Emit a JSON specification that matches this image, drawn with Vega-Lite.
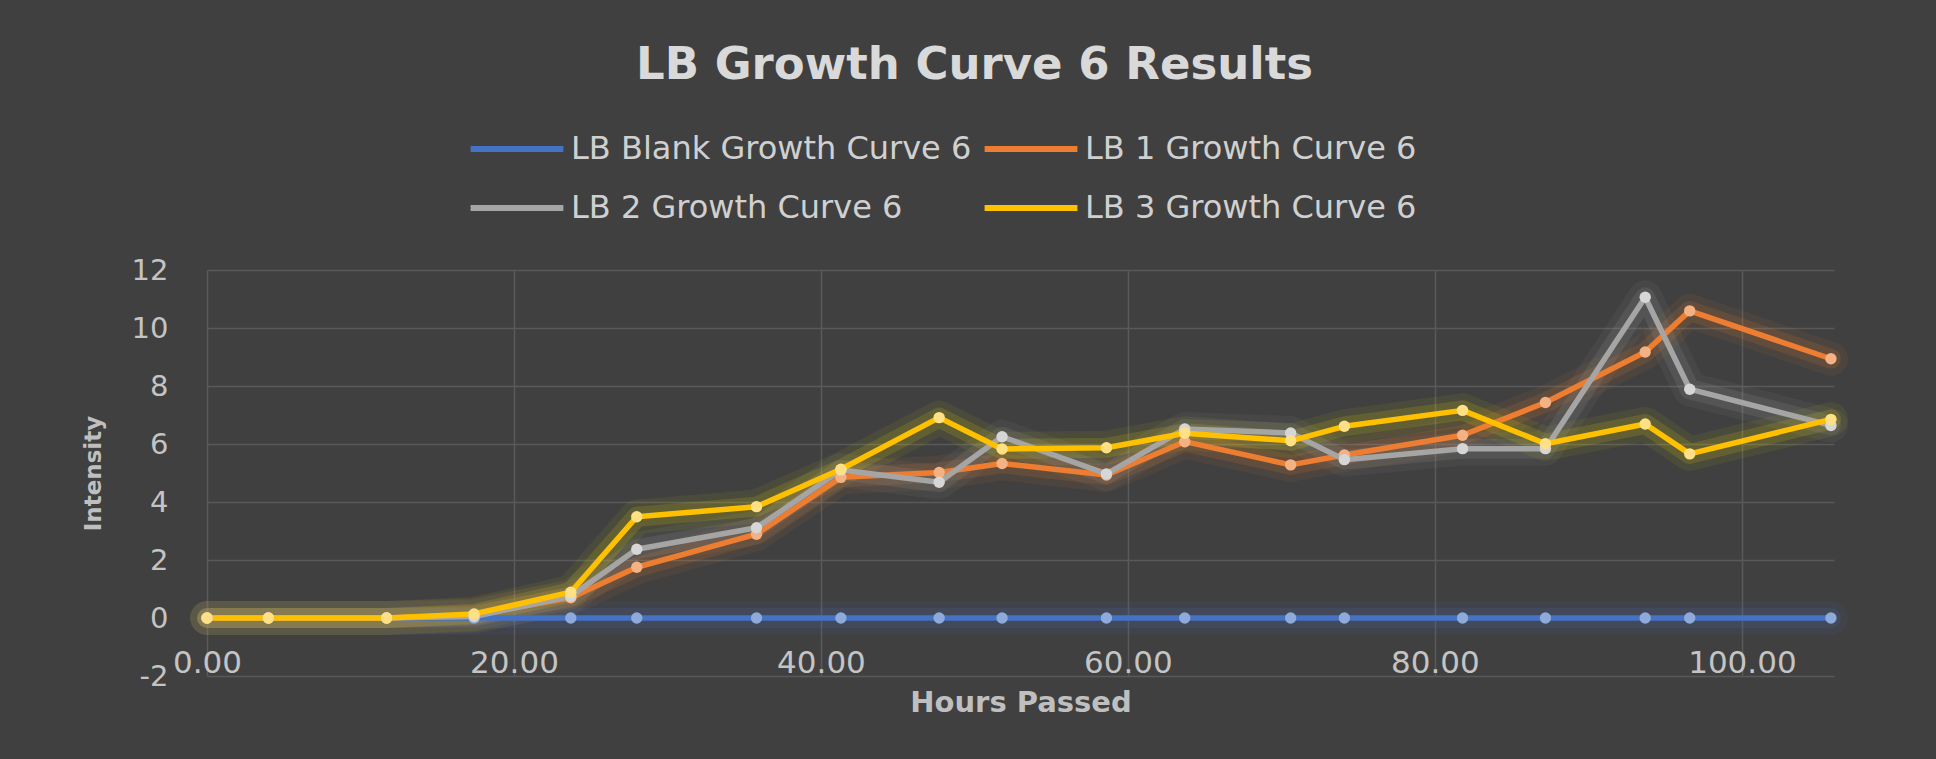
{
  "$schema": "https://vega.github.io/schema/vega-lite/v6.json",
  "autosize": {"type": "none"},
  "width": 1627,
  "height": 406,
  "padding": {"left": 207, "top": 270, "right": 102, "bottom": 83},
  "background": "#404040",
  "title": {
    "text": "LB Growth Curve 6 Results",
    "font": "DejaVu Sans",
    "fontSize": 45,
    "fontWeight": "bold",
    "color": "#d9d9d9",
    "anchor": "middle",
    "frame": "group",
    "baseline": "alphabetic",
    "dx": -46,
    "offset": -18
  },
  "config": {
    "view": {"stroke": null},
    "font": "DejaVu Sans"
  },
  "data": {
    "values": [
      {"h": 0, "s": "LB Blank Growth Curve 6", "v": 0},
      {"h": 4.0, "s": "LB Blank Growth Curve 6", "v": 0},
      {"h": 11.7, "s": "LB Blank Growth Curve 6", "v": 0},
      {"h": 17.4, "s": "LB Blank Growth Curve 6", "v": 0},
      {"h": 23.7, "s": "LB Blank Growth Curve 6", "v": 0},
      {"h": 28.0, "s": "LB Blank Growth Curve 6", "v": 0},
      {"h": 35.8, "s": "LB Blank Growth Curve 6", "v": 0},
      {"h": 41.3, "s": "LB Blank Growth Curve 6", "v": 0},
      {"h": 47.7, "s": "LB Blank Growth Curve 6", "v": 0},
      {"h": 51.8, "s": "LB Blank Growth Curve 6", "v": 0},
      {"h": 58.6, "s": "LB Blank Growth Curve 6", "v": 0},
      {"h": 63.7, "s": "LB Blank Growth Curve 6", "v": 0},
      {"h": 70.6, "s": "LB Blank Growth Curve 6", "v": 0},
      {"h": 74.1, "s": "LB Blank Growth Curve 6", "v": 0},
      {"h": 81.8, "s": "LB Blank Growth Curve 6", "v": 0},
      {"h": 87.2, "s": "LB Blank Growth Curve 6", "v": 0},
      {"h": 93.7, "s": "LB Blank Growth Curve 6", "v": 0},
      {"h": 96.6, "s": "LB Blank Growth Curve 6", "v": 0},
      {"h": 105.8, "s": "LB Blank Growth Curve 6", "v": 0},
      {"h": 0, "s": "LB 1 Growth Curve 6", "v": 0},
      {"h": 4.0, "s": "LB 1 Growth Curve 6", "v": 0},
      {"h": 11.7, "s": "LB 1 Growth Curve 6", "v": 0},
      {"h": 17.4, "s": "LB 1 Growth Curve 6", "v": 0.1},
      {"h": 23.7, "s": "LB 1 Growth Curve 6", "v": 0.7},
      {"h": 28.0, "s": "LB 1 Growth Curve 6", "v": 1.75},
      {"h": 35.8, "s": "LB 1 Growth Curve 6", "v": 2.89},
      {"h": 41.3, "s": "LB 1 Growth Curve 6", "v": 4.85},
      {"h": 47.7, "s": "LB 1 Growth Curve 6", "v": 5.02},
      {"h": 51.8, "s": "LB 1 Growth Curve 6", "v": 5.33},
      {"h": 58.6, "s": "LB 1 Growth Curve 6", "v": 4.93},
      {"h": 63.7, "s": "LB 1 Growth Curve 6", "v": 6.08},
      {"h": 70.6, "s": "LB 1 Growth Curve 6", "v": 5.28},
      {"h": 74.1, "s": "LB 1 Growth Curve 6", "v": 5.62},
      {"h": 81.8, "s": "LB 1 Growth Curve 6", "v": 6.3},
      {"h": 87.2, "s": "LB 1 Growth Curve 6", "v": 7.43},
      {"h": 93.7, "s": "LB 1 Growth Curve 6", "v": 9.17},
      {"h": 96.6, "s": "LB 1 Growth Curve 6", "v": 10.59},
      {"h": 105.8, "s": "LB 1 Growth Curve 6", "v": 8.94},
      {"h": 0, "s": "LB 2 Growth Curve 6", "v": 0},
      {"h": 4.0, "s": "LB 2 Growth Curve 6", "v": 0},
      {"h": 11.7, "s": "LB 2 Growth Curve 6", "v": 0},
      {"h": 17.4, "s": "LB 2 Growth Curve 6", "v": 0.05},
      {"h": 23.7, "s": "LB 2 Growth Curve 6", "v": 0.75},
      {"h": 28.0, "s": "LB 2 Growth Curve 6", "v": 2.37},
      {"h": 35.8, "s": "LB 2 Growth Curve 6", "v": 3.11},
      {"h": 41.3, "s": "LB 2 Growth Curve 6", "v": 5.1},
      {"h": 47.7, "s": "LB 2 Growth Curve 6", "v": 4.68},
      {"h": 51.8, "s": "LB 2 Growth Curve 6", "v": 6.25},
      {"h": 58.6, "s": "LB 2 Growth Curve 6", "v": 4.97},
      {"h": 63.7, "s": "LB 2 Growth Curve 6", "v": 6.52},
      {"h": 70.6, "s": "LB 2 Growth Curve 6", "v": 6.38},
      {"h": 74.1, "s": "LB 2 Growth Curve 6", "v": 5.46},
      {"h": 81.8, "s": "LB 2 Growth Curve 6", "v": 5.84},
      {"h": 87.2, "s": "LB 2 Growth Curve 6", "v": 5.84},
      {"h": 93.7, "s": "LB 2 Growth Curve 6", "v": 11.06},
      {"h": 96.6, "s": "LB 2 Growth Curve 6", "v": 7.89},
      {"h": 105.8, "s": "LB 2 Growth Curve 6", "v": 6.64},
      {"h": 0, "s": "LB 3 Growth Curve 6", "v": 0},
      {"h": 4.0, "s": "LB 3 Growth Curve 6", "v": 0},
      {"h": 11.7, "s": "LB 3 Growth Curve 6", "v": 0},
      {"h": 17.4, "s": "LB 3 Growth Curve 6", "v": 0.14},
      {"h": 23.7, "s": "LB 3 Growth Curve 6", "v": 0.89},
      {"h": 28.0, "s": "LB 3 Growth Curve 6", "v": 3.49},
      {"h": 35.8, "s": "LB 3 Growth Curve 6", "v": 3.84},
      {"h": 41.3, "s": "LB 3 Growth Curve 6", "v": 5.13},
      {"h": 47.7, "s": "LB 3 Growth Curve 6", "v": 6.91},
      {"h": 51.8, "s": "LB 3 Growth Curve 6", "v": 5.83},
      {"h": 58.6, "s": "LB 3 Growth Curve 6", "v": 5.87},
      {"h": 63.7, "s": "LB 3 Growth Curve 6", "v": 6.37},
      {"h": 70.6, "s": "LB 3 Growth Curve 6", "v": 6.11},
      {"h": 74.1, "s": "LB 3 Growth Curve 6", "v": 6.61},
      {"h": 81.8, "s": "LB 3 Growth Curve 6", "v": 7.16},
      {"h": 87.2, "s": "LB 3 Growth Curve 6", "v": 6.01},
      {"h": 93.7, "s": "LB 3 Growth Curve 6", "v": 6.69},
      {"h": 96.6, "s": "LB 3 Growth Curve 6", "v": 5.66},
      {"h": 105.8, "s": "LB 3 Growth Curve 6", "v": 6.85}
    ]
  },
  "encoding": {
    "x": {
      "field": "h",
      "type": "quantitative",
      "scale": {"domain": [0, 106], "nice": false, "zero": false},
      "axis": {
        "values": [0, 20, 40, 60, 80, 100],
        "format": ".2f",
        "grid": true,
        "gridColor": "#595959",
        "gridWidth": 1.5,
        "domain": false,
        "ticks": false,
        "tickSize": 0,
        "labelPadding": -28,
        "labelFontSize": 31,
        "labelColor": "#c4c4c4",
        "labelFlush": false,
        "labelOverlap": false,
        "title": "Hours Passed",
        "titleFontSize": 29,
        "titleFontWeight": "bold",
        "titleColor": "#bfbfbf",
        "titleY": 26,
        "titleBaseline": "middle"
      }
    },
    "y": {
      "field": "v",
      "type": "quantitative",
      "scale": {"domain": [-2, 12], "nice": false, "zero": false},
      "axis": {
        "values": [-2, 0, 2, 4, 6, 8, 10, 12],
        "labelExpr": "replace(datum.label, '−', '-')",
        "grid": true,
        "gridColor": "#595959",
        "gridWidth": 1.5,
        "domain": false,
        "ticks": false,
        "tickSize": 0,
        "labelPadding": 39,
        "labelFontSize": 29,
        "labelColor": "#c4c4c4",
        "labelOverlap": false,
        "title": "Intensity",
        "titleFontSize": 23,
        "titleFontWeight": "bold",
        "titleColor": "#bfbfbf",
        "titleX": -114,
        "titleY": 203,
        "titleBaseline": "middle",
        "titleAngle": -90
      }
    }
  },
  "layer": [
    {
      "mark": {"type": "line", "strokeWidth": 34, "opacity": 0.07, "strokeCap": "round", "strokeJoin": "round"},
      "encoding": {
        "color": {
          "field": "s",
          "type": "nominal",
          "scale": {
            "domain": ["LB Blank Growth Curve 6", "LB 1 Growth Curve 6", "LB 2 Growth Curve 6", "LB 3 Growth Curve 6"],
            "range": ["#4472c4", "#ed7d31", "#a5a5a5", "#e6e600"]
          },
          "legend": null
        }
      }
    },
    {
      "mark": {"type": "line", "strokeWidth": 20, "opacity": 0.14, "strokeCap": "round", "strokeJoin": "round"},
      "encoding": {
        "color": {
          "field": "s",
          "type": "nominal",
          "scale": {
            "domain": ["LB Blank Growth Curve 6", "LB 1 Growth Curve 6", "LB 2 Growth Curve 6", "LB 3 Growth Curve 6"],
            "range": ["#4472c4", "#ed7d31", "#a5a5a5", "#f0e000"]
          },
          "legend": null
        }
      }
    },
    {
      "mark": {"type": "line", "strokeWidth": 5.5, "strokeCap": "round", "strokeJoin": "round"},
      "encoding": {
        "color": {
          "field": "s",
          "type": "nominal",
          "scale": {
            "domain": ["LB Blank Growth Curve 6", "LB 2 Growth Curve 6", "LB 1 Growth Curve 6", "LB 3 Growth Curve 6"],
            "range": ["#4472c4", "#a5a5a5", "#ed7d31", "#ffc000"]
          },
          "legend": {
            "title": null,
            "orient": "none",
            "legendX": 267,
            "legendY": -164,
            "columns": 2,
            "columnPadding": 0,
            "rowPadding": 0,
            "padding": 0,
            "symbolType": "M-1.16,0H1.16",
            "symbolSize": 6400,
            "symbolStrokeWidth": 6,
            "symbolOpacity": 1,
            "labelOffset": 11,
            "labelFontSize": 32,
            "labelColor": "#d0d0d0",
            "labelLimit": 600
          }
        }
      }
    },
    {
      "mark": {"type": "circle", "size": 130, "opacity": 1},
      "encoding": {
        "fill": {
          "field": "s",
          "type": "nominal",
          "scale": {
            "domain": ["LB Blank Growth Curve 6", "LB 1 Growth Curve 6", "LB 2 Growth Curve 6", "LB 3 Growth Curve 6"],
            "range": ["#8eaadb", "#f4b183", "#d6d6d6", "#ffe084"]
          },
          "legend": null
        }
      }
    }
  ],
  "resolve": {"scale": {"color": "independent"}}
}
